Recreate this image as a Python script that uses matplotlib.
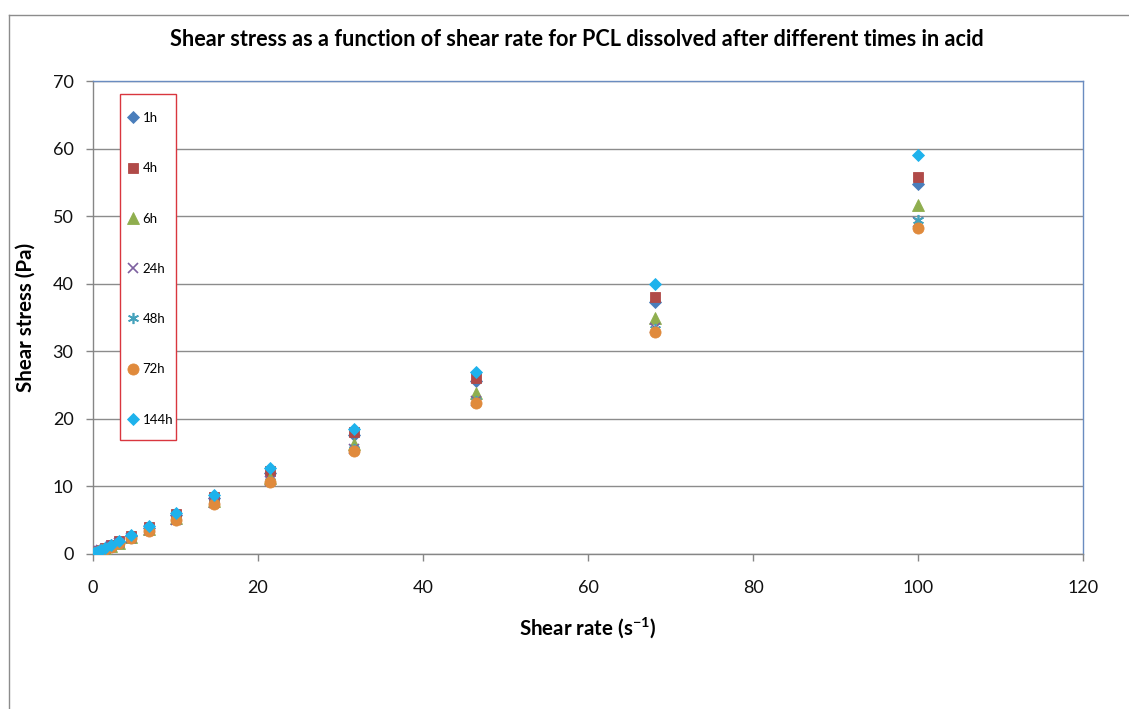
import matplotlib
matplotlib.use("Agg")
import matplotlib.pyplot as plt
from matplotlib.lines import Line2D
from matplotlib.patches import Rectangle

plt.rcParams["font.family"] = ["Lato", "DejaVu Sans"]

# Shear rates (s^-1), logarithmic sweep, 5 points per decade
shear_rate = [0.1, 0.147, 0.215, 0.316, 0.464, 0.681, 1.0, 1.47, 2.15, 3.16,
              4.64, 6.81, 10.0, 14.7, 21.5, 31.6, 46.4, 68.1, 100.0]

# Shear stress (Pa) for each dissolution time
stress_1h = [0.07, 0.10, 0.14, 0.19, 0.28, 0.41, 0.59, 0.87, 1.26, 1.83,
             2.68, 3.90, 5.75, 8.35, 12.0, 17.6, 25.6, 37.3, 54.7]
stress_4h = [0.07, 0.10, 0.14, 0.20, 0.29, 0.42, 0.60, 0.88, 1.28, 1.85,
             2.72, 4.00, 5.85, 8.50, 12.3, 18.0, 26.0, 38.1, 55.8]
stress_6h = [0.06, 0.09, 0.13, 0.18, 0.26, 0.38, 0.55, 0.81, 1.17, 1.70,
             2.50, 3.65, 5.35, 7.80, 11.2, 16.3, 23.8, 35.0, 51.6]
stress_24h = [0.06, 0.09, 0.12, 0.17, 0.25, 0.37, 0.53, 0.78, 1.12, 1.63,
              2.40, 3.50, 5.10, 7.50, 10.8, 15.6, 22.7, 33.5, 49.2]
stress_48h = [0.06, 0.09, 0.12, 0.17, 0.25, 0.37, 0.53, 0.78, 1.12, 1.62,
              2.40, 3.50, 5.10, 7.50, 10.8, 15.6, 22.6, 33.3, 49.4]
stress_72h = [0.06, 0.08, 0.12, 0.17, 0.24, 0.36, 0.52, 0.76, 1.10, 1.60,
              2.35, 3.45, 5.00, 7.40, 10.6, 15.3, 22.4, 32.9, 48.3]
stress_144h = [0.07, 0.10, 0.14, 0.20, 0.29, 0.42, 0.62, 0.90, 1.30, 1.90,
               2.80, 4.10, 6.00, 8.70, 12.8, 18.5, 27.0, 40.0, 59.0]

labels = ["1h", "4h", "6h", "24h", "48h", "72h", "144h"]
series = [stress_1h, stress_4h, stress_6h, stress_24h, stress_48h, stress_72h, stress_144h]

styles = [
    dict(marker="D", color="#4A7EBB", ms=6.5),
    dict(marker="s", color="#B04A48", ms=7.5),
    dict(marker="^", color="#8FAE4E", ms=8),
    dict(marker="x", color="#7D60A0", ms=7, mew=1.2),
    dict(marker=(6, 2, 0), color="#45A2BC", ms=8, mew=1.2),
    dict(marker="o", color="#E08A3C", ms=8),
    dict(marker="D", color="#1EB2EC", ms=6.5),
]

W, H = 1129, 709
fig = plt.figure(figsize=(W / 100, H / 100), dpi=100)

# outer chart frame
frame_col = "#8C8C8C"
fig.add_artist(Line2D([9 / W, 1.0], [1 - 15 / H, 1 - 15 / H], color=frame_col, lw=1.0))
fig.add_artist(Line2D([9 / W, 9 / W], [1 - 15 / H, 0.0], color=frame_col, lw=1.0))

ax_l, ax_r, ax_t, ax_b = 93, 1083, 81, 554
ax = fig.add_axes([ax_l / W, 1 - ax_b / H, (ax_r - ax_l) / W, (ax_b - ax_t) / H])
aw, ah = ax_r - ax_l, ax_b - ax_t

for y, lab, st in zip(series, labels, styles):
    ax.plot(shear_rate, y, linestyle="none", marker=st["marker"], color=st["color"],
            markersize=st["ms"], markeredgewidth=st.get("mew", 0.6),
            markeredgecolor=st["color"], label=lab, zorder=3)

ax.set_xlim(0, 120)
ax.set_ylim(0, 70)
ax.set_xticks(range(0, 121, 20))
ax.set_yticks(range(0, 71, 10))
ax.yaxis.grid(True, color="#8C8C8C", lw=1.0)
ax.set_axisbelow(True)

grey = "#868686"
for side in ("left", "bottom"):
    ax.spines[side].set_color(grey)
for side in ("top", "right"):
    ax.spines[side].set_color("#6A8CC0")
for sp in ax.spines.values():
    sp.set_linewidth(1.0)

ax.tick_params(axis="both", direction="out", length=5, width=1, color=grey,
               labelsize=13, labelcolor="#111111")
ax.tick_params(axis="y", pad=9)
ax.tick_params(axis="x", pad=14)

ax.set_title("Shear stress as a function of shear rate for PCL dissolved after different times in acid",
             fontsize=15.6, fontweight="bold", pad=25, x=(577 - ax_l) / aw)
ax.set_xlabel("Shear rate (s$^{\\mathregular{-1}}$)", fontsize=14.8, fontweight="bold", labelpad=14)
ax.set_ylabel("Shear stress (Pa)", fontsize=14.8, fontweight="bold", labelpad=12)

# legend entries, with a separately drawn frame box
leg = ax.legend(loc="upper left", bbox_to_anchor=((128 - ax_l) / aw, 1 - (112 - ax_t) / ah),
                borderaxespad=0, borderpad=0, fontsize=9.5, labelspacing=2.90,
                handlelength=0.8, handletextpad=0.3, frameon=False)
ax.add_patch(Rectangle(((120 - ax_l) / aw, 1 - (440 - ax_t) / ah), 56 / aw, (440 - 94) / ah,
                       transform=ax.transAxes, fill=True, facecolor="white",
                       edgecolor="#D9363E", lw=1.0, zorder=4))
leg.set_zorder(5)

fig.savefig("out.png", dpi=100)
